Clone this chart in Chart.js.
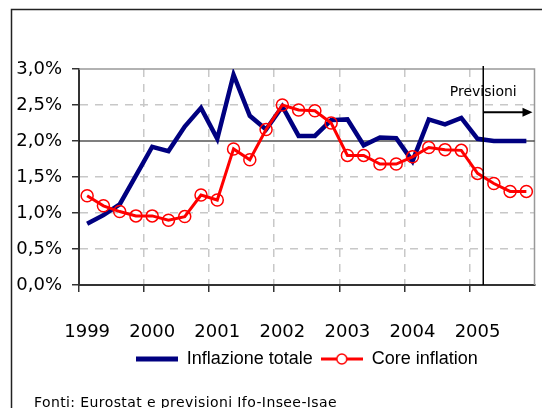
<!DOCTYPE html>
<html>
<head>
<meta charset="utf-8">
<script src="https://cdn.jsdelivr.net/npm/chart.js@4"></script>
<style>
  html, body { margin: 0; padding: 0; background: #fff; }
  #box { width: 542px; height: 408px; }
</style>
</head>
<body>
<div id="box"><canvas id="chart1"></canvas></div>
<script>
// dati trimestrali 1999-2005
const anni = ['1999', '2000', '2001', '2002', '2003', '2004', '2005'];
const trimestri = anni.flatMap(a => ['I', 'II', 'III', 'IV'].map(q => q + ' ' + a));

const inflazioneTotale = [0.85, 0.97, 1.12, 1.52, 1.92, 1.86, 2.20, 2.46,
                          2.03, 2.92, 2.35, 2.16, 2.48, 2.07, 2.07, 2.29,
                          2.30, 1.94, 2.05, 2.04, 1.72, 2.30, 2.23, 2.32,
                          2.03, 2.00, 2.00, 2.00];
const coreInflation = [1.24, 1.10, 1.02, 0.96, 0.96, 0.90, 0.95, 1.25,
                       1.18, 1.89, 1.74, 2.16, 2.50, 2.43, 2.42, 2.25,
                       1.80, 1.80, 1.68, 1.68, 1.78, 1.91, 1.88, 1.87,
                       1.55, 1.41, 1.30, 1.30];

const yTicks = [0, 0.5, 1.0, 1.5, 2.0, 2.5, 3.0];
const inizioPrevisioni = 24.35;   // indice (frazionario) dove partono le previsioni

const BLU = '#000080';
const ROSSO = '#ff0000';
const GRIGIO = '#c8c8c8';

// campioni della legenda: linea (+ cerchio per la core)
function campione(colore, spessore, cerchio) {
  const c = document.createElement('canvas');
  c.width = 42; c.height = 14;
  const g = c.getContext('2d');
  g.strokeStyle = colore;
  g.lineWidth = spessore;
  g.beginPath(); g.moveTo(0, 7); g.lineTo(42, 7); g.stroke();
  if (cerchio) {
    g.lineWidth = 1.5;
    g.fillStyle = '#fff';
    g.beginPath(); g.arc(21, 7, 5, 0, 2 * Math.PI); g.fill(); g.stroke();
  }
  return c;
}
const campioni = [campione(BLU, 5, false), campione(ROSSO, 3, true)];

const decorazioni = {
  id: 'decorazioni',
  beforeDatasetsDraw(chart) {
    const { ctx, chartArea: a, scales: { y } } = chart;
    ctx.save();
    ctx.strokeStyle = '#999';
    ctx.lineWidth = 1.5;
    ctx.beginPath();
    ctx.moveTo(a.left, a.top); ctx.lineTo(a.right, a.top); ctx.lineTo(a.right, a.bottom);
    ctx.stroke();
    const y2 = y.getPixelForValue(2);
    ctx.strokeStyle = '#000';
    ctx.lineWidth = 1.2;
    ctx.beginPath(); ctx.moveTo(a.left, y2); ctx.lineTo(a.right, y2); ctx.stroke();
    ctx.restore();
  },
  afterDatasetsDraw(chart) {
    const { ctx, chartArea: a, scales: { x, y } } = chart;
    const xp = x.getPixelForValue(inizioPrevisioni);
    ctx.save();
    ctx.strokeStyle = '#000';
    ctx.fillStyle = '#000';
    ctx.lineWidth = 1.5;
    ctx.beginPath(); ctx.moveTo(xp, a.top - 3); ctx.lineTo(xp, a.bottom); ctx.stroke();
    // freccia
    const ya = y.getPixelForValue(2.4);
    const xe = a.right - 2;
    ctx.lineWidth = 2;
    ctx.beginPath(); ctx.moveTo(xp, ya); ctx.lineTo(xe - 8, ya); ctx.stroke();
    ctx.beginPath(); ctx.moveTo(xe, ya); ctx.lineTo(xe - 10, ya - 4.5); ctx.lineTo(xe - 10, ya + 4.5); ctx.closePath(); ctx.fill();
    ctx.font = '14px "DejaVu Sans"';
    ctx.textAlign = 'center';
    ctx.textBaseline = 'alphabetic';
    ctx.fillText('Previsioni', xp, y.getPixelForValue(2.62));
    ctx.restore();
  },
  afterDraw(chart) {
    const { ctx, width, height } = chart;
    ctx.save();
    ctx.strokeStyle = '#222';
    ctx.lineWidth = 1.5;
    ctx.beginPath(); ctx.moveTo(11.5, height); ctx.lineTo(11.5, 9.5); ctx.lineTo(width, 9.5); ctx.stroke();
    ctx.fillStyle = '#000';
    ctx.font = '14px "DejaVu Sans"';
    ctx.letterSpacing = '0.4px';
    ctx.textBaseline = 'alphabetic';
    ctx.fillText('Fonti: Eurostat e previsioni Ifo-Insee-Isae', 34, 407);
    ctx.restore();
  }
};

Chart.defaults.color = '#000';

new Chart(document.getElementById('chart1'), {
  type: 'line',
  data: {
    labels: trimestri,
    datasets: [{
      label: 'Inflazione totale',
      data: inflazioneTotale,
      borderColor: BLU,
      backgroundColor: BLU,
      borderWidth: 4.5,
      pointRadius: 0,
      tension: 0,
      order: 1
    }, {
      label: 'Core inflation',
      data: coreInflation,
      borderColor: ROSSO,
      backgroundColor: ROSSO,
      borderWidth: 3,
      pointRadius: 6,
      pointBorderWidth: 1.5,
      pointBackgroundColor: 'rgba(0,0,0,0)',
      pointBorderColor: ROSSO,
      tension: 0,
      order: 0
    }]
  },
  options: {
    responsive: true,
    maintainAspectRatio: false,
    devicePixelRatio: 1,
    animation: false,
    layout: { padding: { top: 69, right: 3, bottom: 30, left: 0 } },
    plugins: {
      tooltip: { enabled: false },
      legend: {
        position: 'bottom',
        fullSize: false,
        labels: {
          usePointStyle: true,
          pointStyleWidth: 42,
          padding: 8,
          font: { family: '"Liberation Sans", Arial, sans-serif', size: 18 },
          generateLabels: chart => chart.data.datasets.map((ds, i) => ({
            text: ds.label,
            pointStyle: campioni[i],
            fillStyle: 'rgba(0,0,0,0)',
            strokeStyle: 'rgba(0,0,0,0)',
            lineWidth: 0,
            hidden: false,
            datasetIndex: i,
            fontColor: '#000'
          }))
        }
      }
    },
    scales: {
      x: {
        offset: true,
        afterFit: s => { s.height = 57; s.paddingLeft = 0; s.paddingRight = 0; },
        grid: {
          offset: true,
          color: c => (c.index % 4 === 0 ? GRIGIO : 'rgba(0,0,0,0)'),
          tickColor: c => (c.index % 4 === 0 ? '#333' : 'rgba(0,0,0,0)'),
          lineWidth: 1.5,
          tickLength: 7,
          tickWidth: 1.5
        },
        border: { color: '#333', width: 2, dash: [8, 7] },
        ticks: {
          autoSkip: false,
          maxRotation: 0,
          padding: 30,
          font: { family: '"DejaVu Sans", Verdana, sans-serif', size: 18 },
          callback: (v, i) => (i % 4 === 0 ? anni[i / 4] : '')
        }
      },
      y: {
        min: 0,
        max: 3,
        afterFit: s => { s.width = 79; },
        afterBuildTicks: s => { s.ticks = yTicks.map(v => ({ value: v })); },
        grid: {
          color: c => ([0.5, 1, 1.5, 2.5].includes(c.tick && c.tick.value) ? GRIGIO : 'rgba(0,0,0,0)'),
          tickColor: '#333',
          lineWidth: 1.5,
          tickLength: 7,
          tickWidth: 1.5
        },
        border: { color: '#333', width: 2, dash: [8, 7] },
        ticks: {
          padding: 10,
          font: { family: '"DejaVu Sans", Verdana, sans-serif', size: 18 },
          callback: v => v.toFixed(1).replace('.', ',') + '%'
        }
      }
    }
  },
  plugins: [decorazioni]
});
</script>
</body>
</html>
